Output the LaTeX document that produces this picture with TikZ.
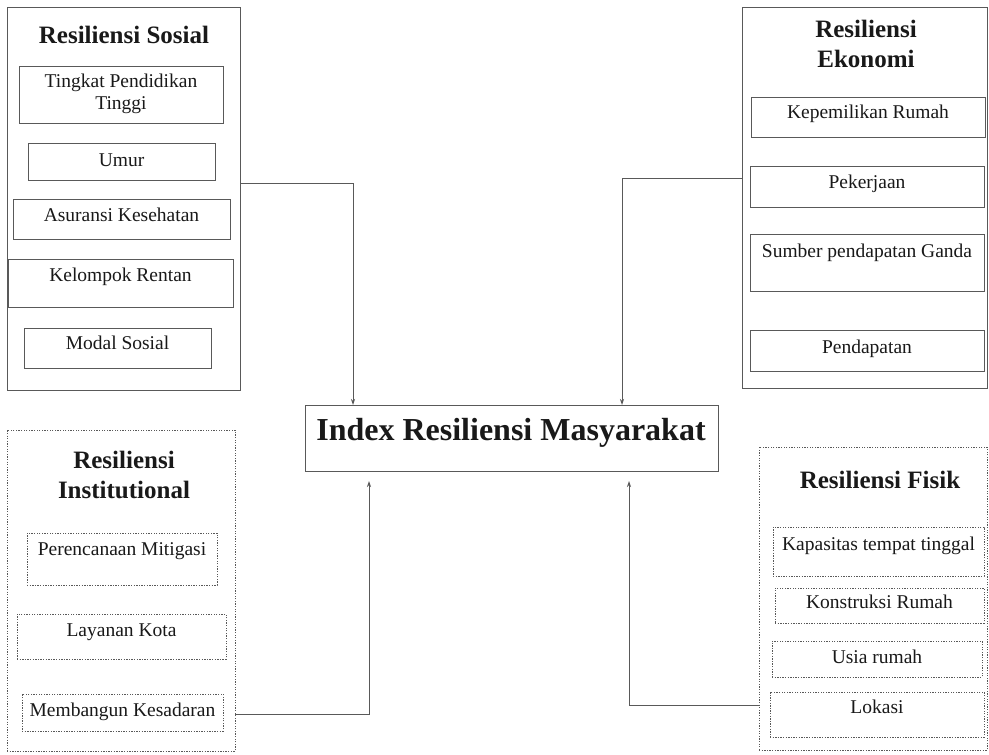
\documentclass[tikz,border=0pt]{standalone}
\usepackage{fontspec}
\setmainfont{Liberation Serif}
\usetikzlibrary{arrows.meta}
\begin{document}
\begin{tikzpicture}[x=1pt,y=-1pt,
  frame/.style={draw=black!65, line width=0.9pt, inner sep=0pt, outer sep=0pt},
  solidbox/.style={frame},
  dotbox/.style={frame, dash pattern=on 1.3pt off 1.3pt},
  title/.style={font=\fontsize{25}{29.5}\selectfont\bfseries, text=black!90, align=center, inner sep=0pt, anchor=base},
  item/.style={font=\fontsize{19.5}{21.5}\selectfont, text=black!90, align=center, inner sep=0pt, anchor=base},
  conn/.style={draw=black!65, line width=0.8pt},
  arr/.style={conn, -{Stealth[length=6pt,width=4pt]}}]
\useasboundingbox (0,0) rectangle (989,755);
\fill[white] (0,0) rectangle (989,755);

% ---------- Resiliensi Sosial ----------
\node[solidbox, minimum width=233pt, minimum height=383pt] (sos) at (123.5,198.5) {};
\node[title] (tsos) at (124,43) {Resiliensi Sosial};
\node[solidbox, minimum width=204pt, minimum height=57pt] (s1) at (121,94.5) {};
\node[item] (ts1) at (121,109) {Tingkat Pendidikan\\Tinggi};
\node[solidbox, minimum width=187pt, minimum height=37pt] (s2) at (121.5,161.5) {};
\node[item] (ts2) at (121.5,166) {Umur};
\node[solidbox, minimum width=217pt, minimum height=40pt] (s3) at (121.5,219) {};
\node[item] (ts3) at (121.5,221) {Asuransi Kesehatan};
\node[solidbox, minimum width=225pt, minimum height=48pt] (s4) at (120.5,283) {};
\node[item] (ts4) at (120.5,281) {Kelompok Rentan};
\node[solidbox, minimum width=187pt, minimum height=40pt] (s5) at (117.5,348) {};
\node[item] (ts5) at (117.5,349) {Modal Sosial};

% ---------- Resiliensi Ekonomi ----------
\node[solidbox, minimum width=245pt, minimum height=381pt] (eko) at (864.5,197.5) {};
\node[title] (teko) at (866,67) {Resiliensi\\Ekonomi};
\node[solidbox, minimum width=234pt, minimum height=40pt] (e1) at (868,117) {};
\node[item] (te1) at (868,118) {Kepemilikan Rumah};
\node[solidbox, minimum width=234pt, minimum height=41pt] (e2) at (867,186.5) {};
\node[item] (te2) at (867,188) {Pekerjaan};
\node[solidbox, minimum width=234pt, minimum height=57pt] (e3) at (867,262.5) {};
\node[item] (te3) at (867,257) {Sumber pendapatan Ganda};
\node[solidbox, minimum width=234pt, minimum height=41pt] (e4) at (867,350.5) {};
\node[item] (te4) at (867,353) {Pendapatan};

% ---------- Resiliensi Institutional ----------
\node[dotbox, minimum width=228pt, minimum height=321pt] (inst) at (121,590.5) {};
\node[title] (tinst) at (124,498) {Resiliensi\\Institutional};
\node[dotbox, minimum width=190pt, minimum height=52pt] (i1) at (122,559) {};
\node[item] (ti1) at (122,555) {Perencanaan Mitigasi};
\node[dotbox, minimum width=209pt, minimum height=45pt] (i2) at (121.5,636.5) {};
\node[item] (ti2) at (121.5,636) {Layanan Kota};
\node[dotbox, minimum width=201pt, minimum height=37pt] (i3) at (122.5,712.5) {};
\node[item] (ti3) at (122.5,716) {Membangun Kesadaran};

% ---------- Resiliensi Fisik ----------
\node[dotbox, minimum width=228pt, minimum height=303pt] (fis) at (873,598.5) {};
\node[title] (tfis) at (880,488) {Resiliensi Fisik};
\node[dotbox, minimum width=211pt, minimum height=49pt] (f1) at (878.5,551.5) {};
\node[item] (tf1) at (878.5,550) {Kapasitas tempat tinggal};
\node[dotbox, minimum width=209pt, minimum height=35pt] (f2) at (879.5,605.5) {};
\node[item] (tf2) at (879.5,608) {Konstruksi Rumah};
\node[dotbox, minimum width=210pt, minimum height=36pt] (f3) at (877,659) {};
\node[item] (tf3) at (877,663) {Usia rumah};
\node[dotbox, minimum width=214pt, minimum height=45pt] (f4) at (877,714.5) {};
\node[item] (tf4) at (877,713) {Lokasi};

% ---------- Index ----------
\node[solidbox, minimum width=413pt, minimum height=66pt] (idx) at (511.5,438) {};
\node[font=\fontsize{32}{38}\selectfont\bfseries, text=black!90, inner sep=0pt, anchor=base] (tidx) at (511,440) {Index Resiliensi Masyarakat};

% ---------- Connectors ----------
\draw[arr] (sos.east |- 0,183) -| ([xshift=48pt]idx.north west);
\draw[arr] (eko.west |- 0,178) -| ([xshift=317pt]idx.north west);
\draw[arr] (inst.east |- 0,714) -| ([xshift=64pt,yshift=-10pt]idx.south west);
\draw[arr] (fis.west |- 0,705) -| ([xshift=324pt,yshift=-10pt]idx.south west);
\end{tikzpicture}
\end{document}
